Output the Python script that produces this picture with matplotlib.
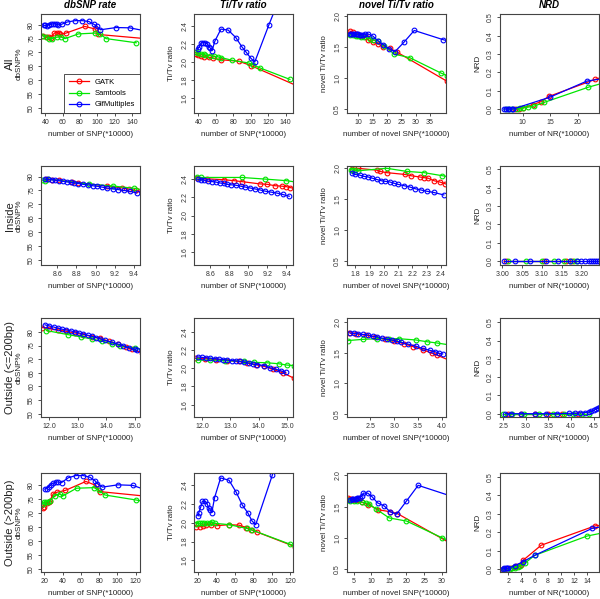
import matplotlib
matplotlib.use("Agg")
import matplotlib.pyplot as plt
from matplotlib.ticker import FixedLocator, FormatStrFormatter

plt.rcParams["font.family"] = ["Liberation Sans", "DejaVu Sans"]

METHODS = ["GATK", "Samtools", "GlfMultiples"]
COLORS = ["#ff0000", "#00e600", "#0000ff"]
ROW_NAMES = ["All", "Inside", "Outside (<=200bp)", "Outside (>200bp)"]
TITLES = ["dbSNP rate", "Ti/Tv ratio", "novel Ti/Tv ratio", "NRD"]
YLABELS = ["dbSNP%", "Ti/Tv ratio", "novel Ti/Tv ratio", "NRD"]
XLABELS = ["number of SNP(*10000)", "number of SNP(*10000)",
	"number of novel SNP(*10000)", "number of NR(*10000)"]

# ---- All ----
all_dbsnp_gatk = [(36.9,76.1),(42,75.5),(44.7,75.6),(46,75.3),(50.4,77),(53,77.2),(55.4,77),(57.3,76.5),
	(63.8,77),(85.3,79.4),(97.3,78.5),(101,76.5),(155,75.0)]
all_dbsnp_sam = [(36.2,76.1),(40.8,75.6),(44.6,75),(47.3,75),(53,75.5),(58,75.6),(62.7,75),(78,76.7),
	(97.3,77),(103,76.7),(110,75),(144.6,73.5)]
all_dbsnp_glf = [(38.1,79.8),(40,79.8),(41.9,79.6),(43.8,80),(46.5,80.2),(49.2,80.4),(51.5,80.4),(53,80.2),
	(55,80),(58.8,80.2),(65,81),(74.6,81.5),(82.3,81.5),(90,81.2),(95.8,80.2),(99.6,79.4),(103.5,78.2),
	(121.5,79),(137,78.9),(160,77.5)]

all_titv_gatk = [(37.3,2.088),(40,2.074),(43,2.063),(46,2.06),(51.8,2.052),(57,2.045),(65.5,2.027),
	(86.7,2.009),(100.8,1.96),(160,1.71)]
all_titv_sam = [(37,2.11),(40,2.1),(43,2.09),(46,2.085),(48,2.08),(53,2.07),(58,2.065),(62,2.06),(66,2.05),
	(79,2.02),(98,1.99),(103,1.97),(111,1.935),(145,1.81)]
all_titv_glf = [(39.2,2.143),(41.1,2.17),(43,2.21),(45,2.215),(47.6,2.215),(50.3,2.2),(52.2,2.17),(53.7,2.155),
	(55.6,2.125),(59,2.233),(65.9,2.364),(74.2,2.353),(83,2.27),(89.8,2.17),(95,2.107),(100,2.045),
	(104.6,2.0),(121,2.414),(135,2.75)]

all_novel_gatk = [(7,1.76),(8,1.74),(9,1.72),(10,1.70),(11,1.68),(12.5,1.66),(13.5,1.62),(15,1.58),(17,1.55),
	(18.5,1.51),(21,1.48),(23.5,1.42),(41,0.95)]
all_novel_sam = [(7,1.70),(8,1.69),(9,1.68),(10,1.68),(11,1.67),(12,1.66),(14,1.64),(15,1.62),(17,1.60),
	(19,1.52),(22.5,1.39),(28,1.33),(39,1.08),(41,1.04)]
all_novel_glf = [(7,1.72),(7.5,1.72),(8,1.72),(8.5,1.715),(9,1.71),(9.5,1.71),(10,1.705),(10.5,1.70),(11,1.70),
	(11.5,1.70),(12.3,1.71),(13.5,1.71),(15,1.68),(16.9,1.60),(18.7,1.54),(20.8,1.47),(22.8,1.43),
	(25.9,1.58),(29.5,1.77),(39.7,1.62),(42,1.59)]

all_nrd_gatk = [(8.6,0),(9.3,0.0),(10,0.005),(11.9,0.024),(13.3,0.04),(14.7,0.068),(23.1,0.161),(25,0.18)]
all_nrd_sam = [(7,0),(7.5,0),(8,0),(9,0.0),(9.5,0.003),(10,0.005),(11,0.01),(12,0.015),(13.9,0.036),
	(21.9,0.119),(25,0.145)]
all_nrd_glf = [(6.6,0),(7,0),(7.3,0),(7.6,0),(8,0),(8.3,0),(14.9,0.064),(21.6,0.152),(25,0.168)]

# ---- Inside ----
in_dbsnp_gatk = [(8.48,79.1),(8.55,78.9),(8.62,78.6),(8.75,78.1),(8.82,77.8),(9.12,76.6),(9.28,75.9),
	(9.35,75.5),(9.42,75.0),(9.5,74.5)]
in_dbsnp_sam = [(8.44,78.8),(8.47,78.4),(8.5,79.1),(8.93,77.3),(9.18,76.6),(9.4,75.8),(9.5,75.2)]
in_dbsnp_glf = [(8.47,79.1),(8.50,79.0),(8.54,78.9),(8.58,78.7),(8.62,78.5),(8.66,78.3),(8.70,78.1),
	(8.74,77.9),(8.78,77.7),(8.82,77.5),(8.87,77.2),(8.92,77.0),(8.97,76.7),(9.02,76.5),(9.07,76.2),
	(9.12,75.9),(9.18,75.6),(9.24,75.3),(9.30,75.0),(9.36,74.7),(9.43,74.1)]

in_titv_gatk = [(8.46,2.41),(8.57,2.40),(8.75,2.39),(8.85,2.38),(8.93,2.37),(9.12,2.345),(9.2,2.34),
	(9.28,2.325),(9.35,2.32),(9.4,2.315),(9.44,2.305),(9.5,2.29)]
in_titv_sam = [(8.46,2.42),(8.5,2.415),(8.93,2.415),(9.18,2.397),(9.4,2.38),(9.5,2.365)]
in_titv_glf = [(8.47,2.395),(8.50,2.39),(8.54,2.385),(8.58,2.375),(8.62,2.37),(8.66,2.365),(8.70,2.355),
	(8.74,2.35),(8.78,2.34),(8.82,2.335),(8.87,2.33),(8.92,2.32),(8.97,2.31),(9.02,2.30),(9.07,2.29),
	(9.12,2.28),(9.18,2.265),(9.24,2.255),(9.30,2.245),(9.36,2.23),(9.43,2.21)]

in_novel_gatk = [(1.78,1.99),(1.82,2.0),(1.95,1.97),(1.97,1.95),(2.02,1.93),(2.15,1.90),(2.19,1.88),
	(2.25,1.86),(2.28,1.85),(2.31,1.84),(2.35,1.80),(2.39,1.78),(2.43,1.75),(2.46,1.73)]
in_novel_sam = [(1.77,1.98),(1.78,1.97),(1.8,1.97),(1.82,1.96),(2.02,2.0),(2.16,1.95),(2.28,1.93),
	(2.41,1.88),(2.46,1.86)]
in_novel_glf = [(1.78,1.92),(1.80,1.90),(1.83,1.89),(1.86,1.87),(1.89,1.86),(1.92,1.84),(1.95,1.82),
	(1.98,1.80),(2.01,1.79),(2.04,1.78),(2.07,1.76),(2.10,1.74),(2.14,1.72),(2.18,1.70),(2.22,1.67),
	(2.26,1.65),(2.30,1.63),(2.35,1.61),(2.42,1.57)]

in_nrd_gatk = [(3.01,0),(3.105,0),(3.16,0),(3.175,0)]
in_nrd_sam = [(3.015,0),(3.06,0),(3.10,0),(3.13,0),(3.155,0),(3.17,0),(3.18,0),(3.19,0)]
in_nrd_glf = [(3.005,0),(3.033,0),(3.07,0),(3.11,0),(3.14,0),(3.17,0),(3.19,0),(3.20,0),(3.21,0),(3.22,0),
	(3.225,0),(3.23,0),(3.235,0),(3.24,0),(3.245,0),(3.25,0)]

# ---- Outside (<=200bp) ----
out1_dbsnp_gatk = [(11.75,81.6),(12.0,81.2),(12.3,80.8),(12.6,80.2),(12.9,79.6),(13.2,79.0),(13.5,78.3),
	(13.8,77.6),(14.1,76.6),(14.4,75.4),(14.7,74.4),(14.9,73.6),(15.25,72.4)]
out1_dbsnp_sam = [(11.9,80.5),(12.66,79.0),(13.1,78.2),(13.5,77.4),(13.85,76.6),(14.2,75.7),(14.5,75.0),
	(15.0,74.1),(15.25,73.6)]
out1_dbsnp_glf = [(11.85,82.6),(12.0,82.2),(12.15,81.8),(12.3,81.4),(12.45,81.0),(12.6,80.7),(12.75,80.4),
	(12.9,80.0),(13.05,79.6),(13.2,79.2),(13.35,78.8),(13.5,78.4),(13.65,77.9),(13.8,77.4),(13.95,76.9),
	(14.2,76.2),(14.4,75.6),(14.6,74.9),(14.8,74.2),(15.0,73.6),(15.1,73.2)]

out1_titv_gatk = [(11.75,2.11),(12.1,2.105),(12.5,2.095),(12.9,2.085),(13.3,2.075),(13.6,2.06),(13.9,2.04),
	(14.2,2.02),(14.5,1.99),(14.85,1.95),(15.25,1.89)]
out1_titv_sam = [(11.85,2.09),(12.3,2.09),(12.8,2.085),(13.5,2.075),(13.85,2.065),(14.3,2.06),(14.7,2.05),
	(15.0,2.035),(15.25,2.03)]
out1_titv_glf = [(11.85,2.125),(12.0,2.12),(12.15,2.115),(12.3,2.11),(12.45,2.105),(12.6,2.10),(12.75,2.095),
	(12.9,2.09),(13.05,2.085),(13.2,2.08),(13.35,2.075),(13.5,2.065),(13.65,2.055),(13.8,2.045),
	(13.95,2.04),(14.2,2.03),(14.4,2.005),(14.6,1.99),(14.8,1.97),(14.95,1.955)]

out1_novel_gatk = [(2.05,1.83),(2.2,1.81),(2.4,1.79),(2.6,1.76),(2.8,1.72),(3.0,1.69),(3.2,1.65),(3.4,1.60),
	(3.6,1.55),(3.8,1.49),(3.9,1.46),(4.15,1.38)]
out1_novel_sam = [(2.03,1.70),(2.35,1.72),(2.65,1.73),(2.9,1.73),(3.1,1.73),(3.45,1.71),(3.7,1.68),
	(3.9,1.66),(4.15,1.63)]
out1_novel_glf = [(2.08,1.82),(2.15,1.82),(2.25,1.81),(2.35,1.80),(2.45,1.79),(2.55,1.77),(2.65,1.76),
	(2.75,1.74),(2.85,1.72),(2.95,1.71),(3.05,1.69),(3.15,1.67),(3.3,1.64),(3.45,1.61),(3.6,1.57),
	(3.75,1.54),(3.85,1.52),(3.95,1.49),(4.02,1.48)]

out1_nrd_gatk = [(2.6,0),(2.9,0),(3.2,0),(3.5,0),(3.8,0),(4.15,0)]
out1_nrd_sam = [(2.5,0),(2.7,0),(2.95,0),(3.3,0),(3.6,0),(3.85,0),(4.05,0),(4.25,0),(4.4,0)]
out1_nrd_glf = [(2.55,0),(2.68,0),(2.9,0),(3.2,0),(3.45,0),(3.7,0),(3.95,0.002),(4.1,0.002),(4.2,0.004),
	(4.3,0.006),(4.4,0.01),(4.45,0.014),(4.5,0.018),(4.55,0.024),(4.6,0.03),(4.65,0.036)]

# ---- Outside (>200bp) ----
out2_dbsnp_gatk = [(18.2,71.8),(19.3,72),(22.5,73.6),(24.7,73.8),(26.2,74.4),(29.8,76.8),(34.2,77.4),
	(42.9,78),(65.5,81.2),(76.4,79.8),(80.7,77.6),(130,76.0)]
out2_dbsnp_sam = [(18.2,73.2),(20,73.8),(21.8,74),(23.6,74),(26.2,74.4),(31.6,76.2),(37.1,76.8),(40,76),
	(55.3,78.8),(74.5,79),(80,78),(86.2,76.4),(120.7,74.6),(130,74.0)]
out2_dbsnp_glf = [(20.7,78.5),(22.5,78.6),(24.7,79.4),(27,80),(29.8,80.6),(32.7,81),(35.3,81),(38.9,80.8),
	(46.2,82.5),(54.5,83.3),(62.5,83.3),(69.8,82.7),(75.3,81.5),(78.2,80.4),(83.6,79.2),(100.7,80),
	(117,79.8),(130,78.3)]

out2_titv_gatk = [(18.2,1.96),(21.8,1.96),(25.4,1.965),(29,1.98),(34.4,1.98),(41,1.97),(53.6,1.98),
	(64.4,1.975),(72.3,1.95),(77.8,1.925),(84.3,1.9),(125,1.745)]
out2_titv_sam = [(18.2,1.99),(20,1.995),(22,1.995),(24,1.995),(26,2.0),(30,2.0),(33,2.0),(35,2.005),
	(38,1.995),(54,1.98),(73,1.94),(78,1.925),(120,1.77),(125,1.75)]
out2_titv_glf = [(20,2.077),(21,2.11),(23,2.17),(24.7,2.23),(28,2.23),(30,2.2),(31.9,2.156),(33.4,2.14),
	(35,2.11),(38,2.27),(44.5,2.48),(53.6,2.456),(61.5,2.325),(68,2.19),(74,2.106),(78.5,2.02),
	(82.5,1.98),(100.5,2.51),(105,2.75)]

out2_novel_gatk = [(3.4,1.64),(4,1.63),(4.6,1.62),(5.2,1.61),(5.8,1.61),(6.5,1.60),(7.3,1.57),(9.2,1.53),
	(12,1.45),(15.3,1.42),(17.4,1.39),(32,0.93)]
out2_novel_sam = [(3.4,1.60),(4,1.59),(5,1.59),(6,1.585),(7.5,1.57),(8.5,1.56),(9.3,1.55),(11.4,1.46),
	(15.1,1.32),(20,1.27),(30.2,1.0),(32,0.96)]
out2_novel_glf = [(4.1,1.61),(4.5,1.62),(4.9,1.62),(5.3,1.625),(5.6,1.63),(5.9,1.635),(6.3,1.64),
	(6.7,1.645),(7.3,1.67),(7.8,1.716),(9,1.716),(10.2,1.66),(11.8,1.56),(13.7,1.51),(15.3,1.42),
	(17.2,1.38),(20,1.59),(23.3,1.84),(32,1.68)]

out2_nrd_gatk = [(1.2,0),(1.5,0),(2.2,0.005),(2.8,0.01),(3.2,0.015),(3.6,0.02),(4,0.025),(4.3,0.05),
	(7.0,0.13),(15.2,0.235),(16.5,0.24)]
out2_nrd_sam = [(1.3,0),(2.2,0.002),(2.6,0.005),(3,0.008),(3.4,0.01),(3.8,0.018),(4.6,0.035),(6.0,0.075),
	(14.0,0.18),(16.5,0.198)]
out2_nrd_glf = [(1.2,0.003),(1.4,0.004),(1.6,0.004),(1.8,0.005),(2.0,0.006),(3.0,0.02),(4.2,0.04),
	(6.0,0.075),(14.8,0.222),(17,0.235)]

SERIES = [
	[(all_dbsnp_gatk, all_dbsnp_sam, all_dbsnp_glf), (all_titv_gatk, all_titv_sam, all_titv_glf),
	 (all_novel_gatk, all_novel_sam, all_novel_glf), (all_nrd_gatk, all_nrd_sam, all_nrd_glf)],
	[(in_dbsnp_gatk, in_dbsnp_sam, in_dbsnp_glf), (in_titv_gatk, in_titv_sam, in_titv_glf),
	 (in_novel_gatk, in_novel_sam, in_novel_glf), (in_nrd_gatk, in_nrd_sam, in_nrd_glf)],
	[(out1_dbsnp_gatk, out1_dbsnp_sam, out1_dbsnp_glf), (out1_titv_gatk, out1_titv_sam, out1_titv_glf),
	 (out1_novel_gatk, out1_novel_sam, out1_novel_glf), (out1_nrd_gatk, out1_nrd_sam, out1_nrd_glf)],
	[(out2_dbsnp_gatk, out2_dbsnp_sam, out2_dbsnp_glf), (out2_titv_gatk, out2_titv_sam, out2_titv_glf),
	 (out2_novel_gatk, out2_novel_sam, out2_novel_glf), (out2_nrd_gatk, out2_nrd_sam, out2_nrd_glf)],
]

Y_TICKS = [[50, 55, 60, 65, 70, 75, 80], [1.6, 1.8, 2.0, 2.2, 2.4], [0.5, 1.0, 1.5, 2.0],
	[0.0, 0.1, 0.2, 0.3, 0.4, 0.5]]
Y_FMT = ["%d", "%.1f", "%.1f", "%.1f"]

X_TICKS = [
	[[40, 60, 80, 100, 120, 140], [40, 60, 80, 100, 120, 140], [10, 15, 20, 25, 30, 35], [10, 15, 20]],
	[[8.6, 8.8, 9.0, 9.2, 9.4], [8.6, 8.8, 9.0, 9.2, 9.4], [1.8, 1.9, 2.0, 2.1, 2.2, 2.3, 2.4],
	 [3.00, 3.05, 3.10, 3.15, 3.20]],
	[[12, 13, 14, 15], [12, 13, 14, 15], [2.5, 3.0, 3.5, 4.0], [2.5, 3.0, 3.5, 4.0, 4.5]],
	[[20, 40, 60, 80, 100, 120], [20, 40, 60, 80, 100, 120], [5, 10, 15, 20, 25, 30],
	 [2, 4, 6, 8, 10, 12, 14]],
]
X_FMT = [["%d", "%d", "%d", "%d"], ["%.1f", "%.1f", "%.1f", "%.2f"],
	["%.1f", "%.1f", "%.1f", "%.1f"], ["%d", "%d", "%d", "%d"]]

X_LIMS = [
	[(35, 149), (35, 148.5), (6, 40.6), (5.9, 23.8)],
	[(8.43, 9.465), (8.43, 9.47), (1.742, 2.435), (2.994, 3.2445)],
	[(11.71, 15.19), (11.72, 15.21), (2.01, 4.09), (2.43, 4.62)],
	[(16.4, 124.7), (15.7, 122.9), (3.13, 31.2), (0.73, 15.82)],
]
Y_LIMS = [
	[(48.1, 83.9), (1.44, 2.53), (0.44, 2.035), (-0.022, 0.518)],
	[(48.2, 83.8), (1.46, 2.54), (0.44, 2.037), (-0.022, 0.518)],
	[(48.8, 85.1), (1.465, 2.552), (0.446, 2.07), (-0.018, 0.523)],
	[(49.05, 84.2), (1.474, 2.533), (0.457, 2.037), (-0.015, 0.522)],
]


def draw_panel(ax, series, r, c):
	lines = []
	for pts, color, name in zip(series, COLORS, METHODS):
		xs = [p[0] for p in pts]
		ys = [p[1] for p in pts]
		ln, = ax.plot(xs, ys, "-o", color=color, lw=0.9, ms=3.4, mfc="none", mew=0.8, label=name)
		lines.append(ln)
	ax.set_xlim(*X_LIMS[r][c]); ax.set_ylim(*Y_LIMS[r][c])
	ax.xaxis.set_major_locator(FixedLocator(X_TICKS[r][c]))
	ax.xaxis.set_major_formatter(FormatStrFormatter(X_FMT[r][c]))
	ax.yaxis.set_major_locator(FixedLocator(Y_TICKS[c]))
	ax.yaxis.set_major_formatter(FormatStrFormatter(Y_FMT[c]))
	ax.tick_params(length=2.2, width=0.6, labelsize=5, pad=2, colors="#333333")
	for lab in ax.get_yticklabels():
		lab.set_rotation(90); lab.set_va("center")
	for s in ax.spines.values():
		s.set_color("#444444"); s.set_linewidth(0.8)
	ax.set_xlabel(XLABELS[c], fontsize=5.8, color="#222222")
	ax.set_ylabel(YLABELS[c], fontsize=5.8, color="#222222")
	ax.xaxis.set_label_coords(0.5, -0.18)
	ax.yaxis.set_label_coords(-0.19, 0.5)
	if r == 0:
		ax.set_title(TITLES[c], fontsize=7, fontweight="bold", fontstyle="italic", pad=4)
	return lines


def main():
	fig = plt.figure(figsize=(6, 5.99), dpi=100)
	W, H = 600.0, 599.0
	lefts = [41, 194, 347, 500]
	tops = [14, 166, 318, 473]
	for r in range(4):
		for c in range(4):
			ax = fig.add_axes([lefts[c] / W, 1 - (tops[r] + 99) / H, 99 / W, 99 / H])
			lines = draw_panel(ax, SERIES[r][c], r, c)
			if r == 0 and c == 0:
				leg = ax.legend(handles=lines, loc="lower right", fontsize=5.5, fancybox=False,
					edgecolor="#333333", framealpha=1, borderaxespad=0, handlelength=2.6,
					labelspacing=0.5, borderpad=0.6)
				leg.get_frame().set_linewidth(0.6)
		fig.text(10 / W, 1 - (tops[r] + 50) / H, ROW_NAMES[r], rotation=90, ha="center", va="center",
			fontsize=8, color="#222222")
	fig.savefig("out.png", dpi=100)
	plt.close(fig)


if __name__ == "__main__":
	main()
